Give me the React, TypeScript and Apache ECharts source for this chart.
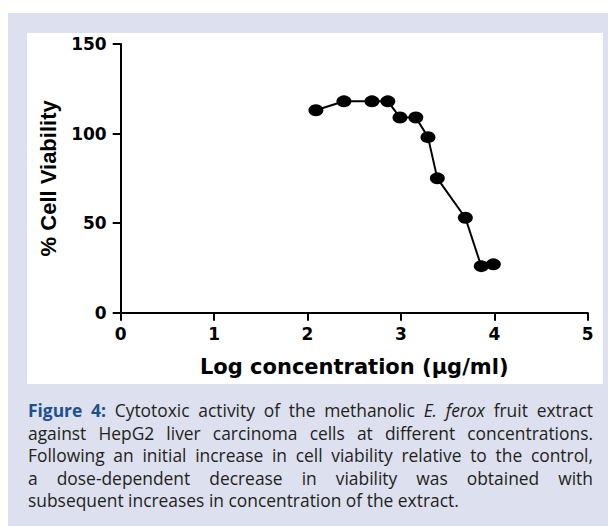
import React, { useEffect, useRef } from "react";
import * as echarts from "echarts";

const logConcentration = [2.09, 2.39, 2.69, 2.86, 2.99, 3.16, 3.29, 3.39, 3.69, 3.86, 3.99];
const cellViability = [113, 118, 118, 118, 109, 109, 98, 75, 53, 26, 27];
const xAxisTitle = "Log concentration (\u03bcg/ml)";
const yAxisTitle = "% Cell Viability";
const captionLabel = "Figure 4:";
const captionLines = [
  " Cytotoxic activity of the methanolic E. ferox fruit extract",
  "against HepG2 liver carcinoma cells at different concentrations.",
  "Following an initial increase in cell viability relative to the control,",
  "a dose-dependent decrease in viability was obtained with",
  "subsequent increases in concentration of the extract.",
];

const axisFont = "'DejaVu Sans', sans-serif";

function Caption() {
  const lineStyle = (justify: boolean): React.CSSProperties => ({
    textAlign: justify ? "justify" : "left",
    textAlignLast: justify ? "justify" : "left",
    whiteSpace: "nowrap",
    height: 22.5,
    lineHeight: "22.5px",
    overflow: "visible",
  });
  const first = captionLines[0];
  const parts = first.split("E. ferox");
  return (
    <div
      style={{
        position: "absolute",
        left: 28,
        top: 399,
        width: 565,
        fontFamily: "'Open Sans', 'Noto Sans', sans-serif",
        fontSize: 17.4,
        color: "#231f20",
      }}
    >
      <div style={lineStyle(true)}>
        <span style={{ color: "#1d4f91", fontWeight: 700 }}>{captionLabel}</span>
        {parts[0]}
        <i>E. ferox</i>
        {parts[1]}
      </div>
      {captionLines.slice(1).map((l, i) => (
        <div key={i} style={lineStyle(i < captionLines.length - 2)}>
          {l}
        </div>
      ))}
    </div>
  );
}

export default function App() {
  const ref = useRef<HTMLDivElement>(null);
  useEffect(() => {
    if (!ref.current) return;
    const chart = echarts.init(ref.current, undefined, { renderer: "svg" });
    const data = logConcentration.map((x, i) => [x, cellViability[i]]);
    chart.setOption({
      animation: false,
      backgroundColor: "transparent",
      grid: { left: 120.7, right: 20.3, top: 44, bottom: 71.3, containLabel: false },
      xAxis: {
        type: "value",
        min: 0,
        max: 5,
        interval: 1,
        name: xAxisTitle,
        nameLocation: "middle",
        nameGap: 44,
        nameTextStyle: { fontFamily: axisFont, fontWeight: "bold", fontSize: 21, color: "#000" },
        axisLine: { show: true, onZero: false, lineStyle: { color: "#000", width: 2 } },
        axisTick: { show: true, length: 8, lineStyle: { color: "#000", width: 2 } },
        axisLabel: { fontFamily: axisFont, fontWeight: "bold", fontSize: 17, color: "#000", margin: 13 },
        splitLine: { show: false },
      },
      yAxis: {
        type: "value",
        min: 0,
        max: 150,
        interval: 50,
        name: yAxisTitle,
        nameLocation: "middle",
        nameGap: 61,
        nameTextStyle: {
          fontFamily: "'Liberation Sans', Arial, sans-serif",
          fontWeight: "bold",
          fontSize: 22,
          color: "#000",
        },
        axisLine: { show: true, onZero: false, lineStyle: { color: "#000", width: 2 } },
        axisTick: { show: true, length: 8, lineStyle: { color: "#000", width: 2 } },
        axisLabel: { fontFamily: axisFont, fontWeight: "bold", fontSize: 17, color: "#000", margin: 14 },
        splitLine: { show: false },
      },
      series: [
        {
          type: "line",
          data,
          symbol: "circle",
          symbolSize: [15, 12],
          showAllSymbol: true,
          lineStyle: { color: "#000", width: 2 },
          itemStyle: { color: "#000", borderWidth: 0 },
        },
      ],
    });
    return () => chart.dispose();
  }, []);

  return (
    <div
      style={{
        position: "fixed",
        left: 0,
        top: 0,
        width: 608,
        height: 526,
        background: "#ffffff",
        overflow: "hidden",
      }}
    >
      <div style={{ position: "absolute", left: 8, top: 13, width: 600, height: 513, background: "#dde0ee" }} />
      <div style={{ position: "absolute", left: 27, top: 33, width: 576, height: 351, background: "#ffffff" }} />
      <div ref={ref} style={{ position: "absolute", left: 0, top: 0, width: 608, height: 384 }} />
      <Caption />
    </div>
  );
}
